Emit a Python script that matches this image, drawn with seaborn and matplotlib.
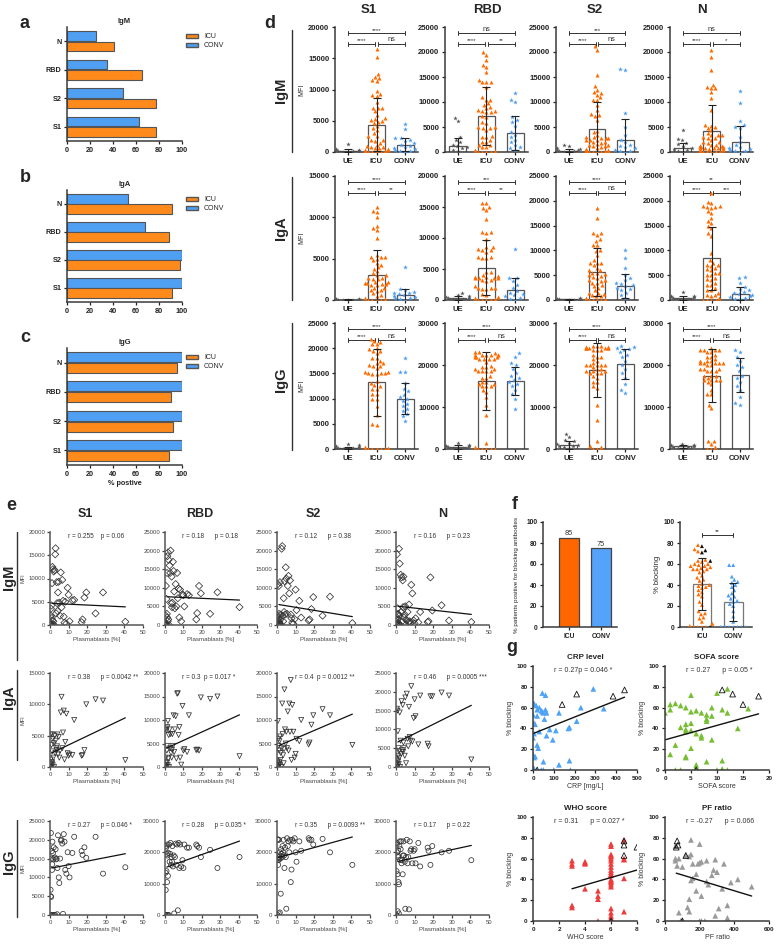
import warnings
import pandas as pd
import matplotlib
matplotlib.use("Agg")
import matplotlib.pyplot as plt
from matplotlib.lines import Line2D
from matplotlib.patches import Patch
import seaborn as sns

warnings.filterwarnings("ignore")

# ---------------- data ----------------
# a-c: % positive
antigens = ["N", "RBD", "S2", "S1"]
igm_icu_pos = [41, 65, 77, 77]
igm_conv_pos = [25, 35, 49, 63]
iga_icu_pos = [91, 89, 98, 91]
iga_conv_pos = [53, 68, 100, 100]
igg_icu_pos = [96, 90, 92, 89]
igg_conv_pos = [100, 100, 100, 100]

# e: plasmablasts (x) and MFI (y) for ICU patients, same order everywhere
plasmablasts = [0.2, 0.3, 0.4, 0.5, 0.6, 0.8, 0.9, 1.0, 1.1, 1.3, 1.5, 1.6, 1.8, 2.0, 2.2, 2.5,
                2.8, 3.0, 3.3, 3.6, 4.0, 4.3, 4.7, 5.0, 5.4, 5.8, 6.2, 6.6, 7.0, 7.4, 7.8, 8.2,
                8.8, 9.5, 10.0, 10.5, 12.0, 13.0, 17.0, 17.5, 18.5, 19.5, 24.5, 28.5, 40.5,
                0.1, 1.2, 3.8]
igm_s1 = [0, 300, 2000, 3500, 100, 4200, 0, 1500, 9000, 12500, 200, 12000, 800, 11500, 0, 11800,
          15200, 16500, 2500, 9200, 3000, 7000, 9300, 4800, 2000, 11300, 3800, 9700, 5200, 1800,
          500, 5000, 300, 8000, 6500, 800, 5300, 5400, 600, 1200, 5900, 7000, 2500, 7000, 700,
          0, 1000, 4700]
igm_rbd = [0, 500, 2500, 10500, 200, 7000, 0, 3000, 14000, 18500, 1000, 19500, 1500, 17500, 0,
           16000, 14000, 20000, 5800, 13000, 6000, 17000, 14500, 9000, 4500, 11000, 5000, 14000,
           7200, 9800, 2000, 9500, 1000, 8200, 8000, 5000, 8300, 8000, 1500, 3200, 10500, 8500,
           3000, 8800, 4800, 0, 2000, 4800]
igm_s2 = [0, 1200, 2500, 11000, 300, 2000, 0, 10500, 3000, 800, 200, 11500, 1500, 2800, 0, 20500,
          21200, 2500, 1000, 7200, 11800, 2800, 15500, 12500, 3000, 10500, 13200, 8500, 12000,
          2800, 1800, 600, 300, 1600, 9500, 4000, 6500, 2000, 1200, 1500, 4300, 7500, 2500, 7600,
          500, 0, 500, 3500]
igm_n = [0, 800, 2000, 19000, 100, 4500, 0, 1500, 3000, 500, 200, 20500, 2500, 16500, 0, 13500,
         3500, 12800, 1000, 12000, 13000, 2000, 2800, 5000, 1500, 1200, 3500, 800, 5500, 1000,
         600, 10800, 8500, 1200, 400, 1800, 700, 3500, 800, 1000, 12800, 3900, 5300, 1200, 800,
         0, 2800, 4800]
iga_s1 = [0, 500, 1200, 5200, 100, 3500, 0, 800, 2500, 5200, 300, 4500, 1500, 3800, 0, 5000,
          2200, 4200, 3000, 2700, 5200, 2000, 4800, 1500, 2600, 8700, 11200, 3000, 5500, 9000,
          1200, 4000, 8500, 2200, 1800, 2000, 1900, 7500, 1800, 1900, 2700, 10000, 10800, 10600,
          1100, 0, 600, 3300]
iga_rbd = [0, 800, 2000, 8200, 200, 7800, 0, 3500, 4500, 8500, 400, 9800, 1800, 6800, 0, 8000,
           4000, 7000, 3000, 2000, 7000, 4500, 11000, 3200, 8000, 10800, 1800, 15600, 15700, 6800,
           8500, 2000, 500, 13000, 3500, 3800, 3200, 11000, 3600, 3700, 3500, 14800, 14500, 15000,
           2300, 0, 1000, 3700]
iga_s2 = [0, 800, 1200, 9800, 300, 4500, 0, 6000, 3500, 5500, 500, 6500, 1500, 3000, 0, 4000,
          13500, 7000, 2500, 800, 16500, 8000, 5000, 7500, 4000, 11800, 3500, 13500, 7500, 18500,
          1500, 13200, 7500, 2000, 2800, 6000, 5500, 10000, 4800, 5200, 9000, 11000, 12300, 11000,
          4700, 0, 1000, 3800]
iga_n = [0, 1000, 2000, 15500, 500, 15000, 0, 9500, 3000, 5000, 800, 4200, 2500, 14500, 0, 7000,
         3500, 17500, 4500, 16500, 6500, 5000, 3000, 18500, 1000, 19500, 7500, 5500, 16000, 8000,
         7000, 21500, 6800, 13000, 18000, 13500, 6000, 19000, 6200, 5500, 18800, 18800, 19800,
         19000, 2000, 0, 1500, 4000]
igg_s1 = [0, 6700, 5000, 21800, 4800, 15000, 0, 17000, 12000, 19500, 0, 16500, 14800, 18000, 0,
          15300, 0, 17500, 14800, 15000, 12500, 21200, 10000, 8500, 15000, 19800, 20000, 19000,
          300, 21500, 19500, 12000, 11000, 16700, 13000, 10000, 16500, 20800, 17000, 16000, 18000,
          15200, 20800, 11000, 12700, 0, 13500, 200]
igg_rbd = [0, 13500, 8000, 22000, 21500, 14000, 0, 19500, 10500, 22500, 0, 12500, 19800, 0, 22500,
           17000, 19500, 23000, 16000, 18500, 22000, 15500, 19000, 500, 18500, 22800, 16000, 22500,
           1500, 23000, 15000, 22500, 15500, 17500, 15000, 22500, 21500, 21500, 22500, 22000,
           21500, 18500, 20800, 15000, 18500, 0, 19000, 17000]
igg_s2 = [0, 24200, 18000, 24000, 16000, 17500, 500, 24000, 18500, 19000, 800, 20000, 18000, 6800,
          21000, 19500, 18500, 22000, 20000, 24000, 15000, 21500, 18500, 2000, 24500, 22000, 23500,
          20000, 24000, 10500, 14500, 24000, 23500, 24500, 20000, 17000, 23500, 20500, 24500,
          24000, 24000, 22500, 24300, 20000, 16000, 0, 18000, 19000]
igg_n = [0, 14000, 22500, 23000, 20000, 13000, 1200, 19000, 18500, 10500, 500, 9800, 22000, 23500,
         17500, 21000, 23500, 16500, 17500, 13000, 23500, 19000, 17000, 2000, 18500, 24000, 16500,
         18500, 1800, 23500, 20500, 21000, 16500, 20500, 21000, 16500, 23000, 15500, 21500, 20500,
         16000, 22000, 20000, 20500, 17500, 0, 20500, 19000]

icu_igm = [igm_s1, igm_rbd, igm_s2, igm_n]
icu_iga = [iga_s1, iga_rbd, iga_s2, iga_n]
icu_igg = [igg_s1, igg_rbd, igg_s2, igg_n]

# fitted lines (MFI at plasmablasts = 1 and 40.5)
fit_x = [1, 40.5]
fit_igm = [(4650, 3900), (7600, 6700), (5500, 2250), (5050, 2850)]
fit_iga = [(2250, 7850), (4050, 11100), (4550, 11250), (6650, 16400)]
fit_igg = [(12500, 16300), (15300, 23600), (18400, 24900), (17100, 22200)]
notes_igm = ["r = 0.255    p = 0.06", "r = 0.18      p = 0.18",
             "r = 0.12      p = 0.38", "r = 0.16      p = 0.23"]
notes_iga = ["r = 0.38      p = 0.0042 **", "r = 0.3  p = 0.017 *",
             "r = 0.4  p = 0.0012 **", "r = 0.46      p = 0.0005 ***"]
notes_igg = ["r = 0.27      p = 0.046 *", "r = 0.28      p = 0.035 *",
             "r = 0.35      p = 0.0093 **", "r = 0.17      p = 0.22"]
e_ymax_igm = [20000, 25000, 25000, 25000]
e_ymax_iga = [15000, 20000, 20000, 25000]
e_ymax_igg = [25000, 30000, 30000, 30000]

# d: MFI per group (UE / ICU / CONV); ICU points are the same patients as in e
groups = ["UE", "ICU", "CONV"]
ue_igm = [[0, 50, 100, 100, 150, 200, 250, 300, 500, 1300],
          [200, 500, 800, 1000, 1200, 1500, 2000, 2500, 3000, 6200, 6900],
          [0, 100, 200, 300, 400, 500, 600, 800, 1300, 1500],
          [100, 300, 500, 700, 900, 1200, 1600, 1900, 2500, 2700, 4500]]
ue_iga = [[0, 0, 20, 30, 50, 60, 80, 100, 120, 150],
          [0, 100, 150, 200, 300, 400, 500, 600, 800, 1100],
          [0, 50, 100, 100, 150, 200, 250, 300, 300, 350],
          [100, 200, 300, 400, 500, 600, 700, 800, 900, 1700]]
ue_igg = [[0, 50, 100, 150, 200, 250, 300, 500, 800, 1000],
          [100, 200, 300, 400, 500, 600, 700, 800, 1000, 1400],
          [200, 400, 600, 800, 1000, 1200, 1500, 1800, 2200, 2800, 3600],
          [200, 300, 400, 500, 600, 700, 800, 900, 1000, 1300]]
conv_igm = [[0, 100, 200, 300, 500, 600, 800, 1000, 1200, 1500, 1800, 2000, 2200, 2300, 3700, 4500],
            [500, 800, 1000, 1500, 2000, 2500, 3000, 3500, 4000, 5200, 6000, 6500, 7000, 10000,
             10500, 11800],
            [0, 200, 300, 500, 800, 1000, 1200, 1500, 2000, 2500, 3500, 5000, 7800, 16500, 16700],
            [0, 200, 300, 500, 600, 800, 1000, 1500, 2000, 3000, 4800, 5000, 5500, 6200, 9800, 12300]]
conv_iga = [[0, 100, 200, 300, 400, 500, 600, 700, 800, 900, 1000, 1200, 1300, 4000],
            [0, 200, 400, 600, 800, 1000, 1200, 1500, 2000, 2500, 3000, 3500, 3600, 8200],
            [500, 1000, 1500, 2000, 2200, 2500, 2800, 3000, 3300, 3500, 4000, 4500, 5000, 6500,
             8500, 10000],
            [200, 300, 500, 700, 900, 1000, 1200, 1400, 1600, 2000, 2300, 2600, 3500, 4500, 4600]]
conv_igg = [[5600, 6500, 7000, 7500, 8000, 8500, 9000, 9500, 10000, 10300, 10800, 11500, 12000,
             13000, 15200, 15300, 18000],
            [9500, 12000, 13000, 14000, 15000, 15500, 16000, 16500, 17000, 17500, 18000, 19000,
             20000, 20500, 22000, 22800],
            [13300, 14000, 15500, 17000, 18000, 19000, 20000, 21000, 22000, 23000, 23500, 24000,
             24300, 24500, 23800, 22500],
            [10500, 11000, 12500, 14000, 15000, 16000, 17000, 17500, 18500, 19500, 20000, 21000,
             22000, 23000, 23500]]
mean_igm = [[200, 4400, 1200], [1300, 7200, 3800], [300, 4700, 2400], [800, 4300, 2100]]
sd_igm = [[250, 4300, 1100], [1600, 5800, 3400], [300, 5300, 4300], [1000, 5200, 3100]]
mean_iga = [[50, 3000, 600], [300, 5200, 1600], [150, 5700, 2900], [400, 8400, 1300]]
sd_iga = [[50, 3100, 700], [300, 4400, 2000], [100, 4800, 2400], [400, 6400, 1300]]
mean_igg = [[200, 13200, 10000], [500, 16200, 16200], [1000, 18800, 20300], [600, 17500, 17600]]
sd_igg = [[250, 6600, 3100], [400, 6900, 3300], [900, 6500, 3600], [300, 6200, 4100]]
d_ymax_igm = [20000, 25000, 25000, 25000]
d_ymax_iga = [15000, 20000, 25000, 25000]
d_ymax_igg = [25000, 30000, 30000, 30000]
stars_igm = [("****", "****", "ns"), ("ns", "****", "**"), ("***", "****", "ns"), ("ns", "****", "*")]
stars_iga = [("****", "****", "**"), ("***", "****", "**"), ("****", "****", "ns"), ("**", "****", "***")]
stars_igg = [("****", "****", "ns"), ("****", "****", "ns"), ("****", "****", "ns"), ("****", "****", "ns")]

# f
blocking_positive = [85, 75]
conv_block = [0, 0, 0, 0, 0, 0, 0, 0, 5, 10, 15, 20, 22, 24, 25, 27, 29, 30, 32, 35, 38, 40, 42,
              43, 45, 48, 59, 59]
block_mean = [41, 24]
block_sd = [25, 18]

# g: ICU patients, % blocking vs clinical parameters
block_pct = [74, 72, 78, 59, 60, 47, 41, 55, 38, 39, 29, 5, 9, 0, 0, 0, 0, 8, 64, 62, 63, 58, 57,
             56, 55, 60, 45, 44, 35, 31, 15, 13, 12, 24, 21, 3, 1, 53, 58, 55, 37, 49, 52, 33, 40,
             77, 73, 71, 63, 0]
crp = [45, 60, 290, 340, 230, 210, 175, 125, 110, 80, 95, 125, 175, 180, 100, 50, 40, 50, 5, 15, 0,
       20, 40, 45, 50, 30, 5, 10, 5, 0, 0, 10, 5, 20, 25, 0, 5, 0, 60, 65, 30, 55, 20, 65, 170,
       440, 210, 385, 140, 20]
sofa = [10, 5, 12, 16, 4, 8, 3, 12, 5, 4, 9, 6, 11, 2, 3, 10, 12, 8, 2, 3, 1, 1, 6, 5, 7, 9, 5, 4,
        6, 7, 1, 4, 4, 2, 5, 6, 11, 8, 11, 0, 4, 8, 9, 7, 14, 11, 13, 18, 15, 6]
who = [6, 6, 7, 7, 7, 6, 7, 6, 6, 6, 5, 6, 7, 5, 6, 6, 6, 6, 6, 6, 6, 6, 4, 4, 4, 6, 6, 6, 6, 4, 3,
       3, 6, 5, 5, 6, 6, 3, 3, 3, 6, 6, 6, 6, 6, 7, 7, 8, 7, 6]
pf = [200, 60, 150, 290, 60, 300, 160, 190, 240, 150, 180, 290, 140, 200, 90, 230, 210, 80, 150,
      140, 120, 60, 210, 200, 160, 80, 180, 270, 250, 330, 360, 130, 310, 210, 140, 360, 100, 70,
      240, 340, 380, 280, 100, 500, 420, 70, 75, 65, 120, 100]
marked = [0] * 45 + [1] * 5
fit_crp = ([0, 440], [35, 70])
fit_sofa = ([0, 18], [29, 54])
fit_who = ([3, 8], [31, 49])
fit_pf = ([65, 500], [46, 24])

# ---------------- style ----------------
sns.set_theme(style="ticks")
plt.rcParams["font.family"] = ["Liberation Sans", "DejaVu Sans"]
plt.rcParams.update({
    "axes.spines.top": False, "axes.spines.right": False,
    "axes.linewidth": 1.1, "axes.edgecolor": "#3a3a3a",
    "xtick.major.size": 2.5, "ytick.major.size": 2.5,
    "xtick.major.width": 0.9, "ytick.major.width": 0.9,
    "xtick.major.pad": 1.5, "ytick.major.pad": 1.5,
    "axes.labelpad": 2,
})

ORANGE_BAR = "#FF8A1C"
BLUE_BAR = "#4FA0F2"
ORANGE = "#FF6A00"
BLUE = "#4A9BF0"
GREY = "#555555"

W, H = 776, 944
fig = plt.figure(figsize=(W / 100, H / 100), dpi=100)


def add_ax(left, top, right, bottom):
    return fig.add_axes([left / W, 1 - bottom / H, (right - left) / W, (bottom - top) / H])


def ftext(x, y, s, **kw):
    fig.text(x / W, 1 - y / H, s, ha="center", va="center", **kw)


def vline(x, y0, y1):
    fig.add_artist(Line2D([x / W, x / W], [1 - y0 / H, 1 - y1 / H], color="#333", lw=1.0))


def ticks(ax, size, bold=False, color="#222"):
    ax.tick_params(labelsize=size, colors=color)
    if bold:
        for t in ax.get_xticklabels() + ax.get_yticklabels():
            t.set_fontweight("bold")


# ---------------- a-c ----------------
def positive_panel(top, bottom, icu, conv, title, xlabel=None):
    ax = add_ax(67, top, 182, bottom)
    df = pd.DataFrame({"antigen": antigens * 2,
                       "group": ["CONV"] * 4 + ["ICU"] * 4,
                       "pct": conv + icu})
    sns.barplot(data=df, x="pct", y="antigen", hue="group", order=antigens,
                hue_order=["CONV", "ICU"], palette={"ICU": ORANGE_BAR, "CONV": BLUE_BAR},
                saturation=1, edgecolor="#555", linewidth=0.8, width=0.74, gap=0.08,
                legend=False, ax=ax)
    ax.set_xlim(0, 100)
    ax.set_xticks(range(0, 101, 20))
    ax.set_ylabel("")
    ax.set_xlabel(xlabel or "", fontsize=5.2, fontweight="bold")
    ax.set_title(title, fontsize=5.5, fontweight="bold", pad=3)
    ticks(ax, 5.2, bold=True)
    handles = [Patch(facecolor=ORANGE_BAR, edgecolor="#555", label="ICU"),
               Patch(facecolor=BLUE_BAR, edgecolor="#555", label="CONV")]
    ax.legend(handles=handles, loc="upper left", bbox_to_anchor=(1.01, 0.97), frameon=False,
              fontsize=5, handlelength=1.8, handleheight=0.5, labelspacing=0.3, borderaxespad=0)


positive_panel(27, 141, igm_icu_pos, igm_conv_pos, "IgM")
positive_panel(190, 302, iga_icu_pos, iga_conv_pos, "IgA")
positive_panel(348, 465, igg_icu_pos, igg_conv_pos, "IgG", "% postive")
ftext(25, 24, "a", fontsize=13, fontweight="bold")
ftext(25, 177, "b", fontsize=13, fontweight="bold")
ftext(25, 338, "c", fontsize=13, fontweight="bold")


# ---------------- d ----------------
def bracket(ax, x0, x1, y, text):
    tr = ax.get_xaxis_transform()
    kw = dict(color="#333", lw=0.7, transform=tr, clip_on=False)
    ax.plot([x0, x1], [y, y], **kw)
    ax.plot([x0, x0], [y - 0.015, y + 0.015], **kw)
    ax.plot([x1, x1], [y - 0.015, y + 0.015], **kw)
    ax.text((x0 + x1) / 2, y + 0.004, text, transform=tr, ha="center", va="bottom",
            fontsize=5.3 if text == "ns" else 4.5, color="#333")


def mfi_panel(ax, ue, icu, conv, means, sds, ymax, stars, first):
    step = 10000 if ymax == 30000 else 5000
    sns.barplot(x=groups, y=means, color="white", edgecolor="#555", linewidth=0.9,
                width=0.6, errorbar=None, ax=ax)
    sns.swarmplot(x=["UE"] * len(ue), y=ue, order=groups, color=GREY, marker="*", size=3.4, ax=ax)
    sns.swarmplot(x=["ICU"] * len(icu), y=icu, order=groups, color=ORANGE, marker="^", size=2.9, ax=ax)
    sns.swarmplot(x=["CONV"] * len(conv), y=conv, order=groups, color=BLUE, marker="*", size=3.6, ax=ax)
    ax.errorbar([0, 1, 2], means, yerr=sds, fmt="none", ecolor="#222", elinewidth=0.8,
                capsize=3, capthick=0.8, zorder=5)
    ax.set_xlim(-0.45, 2.45)
    ax.set_ylim(0, ymax)
    ax.set_yticks(range(0, ymax + 1, step))
    ax.set_xlabel("")
    ax.set_ylabel("MFI" if first else "", fontsize=5)
    ticks(ax, 5.5, bold=True)
    bracket(ax, 0, 2, 0.95, stars[0])
    bracket(ax, 0, 0.95, 0.865, stars[1])
    bracket(ax, 1.05, 2, 0.865, stars[2])


d_cols = [(335, 418), (445, 528), (556, 638), (670, 753)]
d_rows = [(27, 152), (176, 300), (323, 449)]
d_sets = [(ue_igm, icu_igm, conv_igm, mean_igm, sd_igm, d_ymax_igm, stars_igm),
          (ue_iga, icu_iga, conv_iga, mean_iga, sd_iga, d_ymax_iga, stars_iga),
          (ue_igg, icu_igg, conv_igg, mean_igg, sd_igg, d_ymax_igg, stars_igg)]
for (top, bottom), (ue, icu, conv, mn, sd, ym, st) in zip(d_rows, d_sets):
    for j, (left, right) in enumerate(d_cols):
        ax = add_ax(left, top, right, bottom)
        mfi_panel(ax, ue[j], icu[j], conv[j], mn[j], sd[j], ym[j], st[j], j == 0)

for x, name in zip([369, 487, 595, 702], ["S1", "RBD", "S2", "N"]):
    ftext(x, 10, name, fontsize=9.5, fontweight="bold")
for yc, (y0, y1), name in zip([90, 228, 380], [(30, 152), (177, 300), (323, 450)], ["IgM", "IgA", "IgG"]):
    ftext(281, yc, name, fontsize=10.5, fontweight="bold", rotation=90)
    vline(292, y0, y1)
ftext(270, 23, "d", fontsize=13, fontweight="bold")


# ---------------- e ----------------
def corr_panel(ax, y, marker, ymax, fit, note, first):
    step = 10000 if ymax == 30000 else 5000
    sns.scatterplot(x=plasmablasts, y=y, marker=marker, s=13, facecolor="none",
                    edgecolor="#333", linewidth=0.55, ax=ax)
    ax.plot(fit_x, fit, color="#111", lw=0.9)
    ax.set_xlim(0, 50)
    ax.set_ylim(0, ymax)
    ax.set_xticks(range(0, 51, 10))
    ax.set_yticks(range(0, ymax + 1, step))
    ax.set_xlabel("Plasmablasts [%]", fontsize=4.4, color="#444", labelpad=1.5)
    ax.set_ylabel("MFI" if first else "", fontsize=4, color="#444")
    ax.tick_params(length=2)
    ticks(ax, 4.3, color="#444")
    ax.spines["left"].set_color("#555")
    ax.spines["bottom"].set_color("#555")
    ax.text(0.19, 0.985, note, transform=ax.transAxes, fontsize=4.7, va="top", color="#333")


e_cols = [(50, 143), (165, 257), (277, 370), (396, 489)]
e_rows = [(532, 625), (673, 767), (821, 915)]
e_sets = [(icu_igm, "D", e_ymax_igm, fit_igm, notes_igm),
          (icu_iga, "v", e_ymax_iga, fit_iga, notes_iga),
          (icu_igg, "o", e_ymax_igg, fit_igg, notes_igg)]
for (top, bottom), (ys, mk, ym, fits, notes) in zip(e_rows, e_sets):
    for j, (left, right) in enumerate(e_cols):
        ax = add_ax(left, top, right, bottom)
        corr_panel(ax, ys[j], mk, ym[j], fits[j], notes[j], j == 0)

for x, name in zip([85, 200, 313, 443], ["S1", "RBD", "S2", "N"]):
    ftext(x, 514, name, fontsize=9, fontweight="bold")
for yc, (y0, y1), name in zip([577, 697, 862], [(532, 660), (670, 760), (820, 917)], ["IgM", "IgA", "IgG"]):
    ftext(9, yc, name, fontsize=10.5, fontweight="bold", rotation=90)
    vline(17, y0, y1)
ftext(11, 506, "e", fontsize=13, fontweight="bold")

# ---------------- f ----------------
ax = add_ax(543, 522, 617, 627)
sns.barplot(x=["ICU", "CONV"], y=blocking_positive, hue=["ICU", "CONV"],
            palette={"ICU": "#FF6600", "CONV": "#55A2FA"}, saturation=1, edgecolor="#444",
            linewidth=0.9, width=0.62, legend=False, ax=ax)
for c in ax.containers:
    ax.bar_label(c, fontsize=5.3, padding=0.3, color="#333")
ax.set_xlim(-0.8, 1.5)
ax.set_ylim(0, 100)
ax.set_yticks(range(0, 101, 20))
ax.set_ylabel("% patients positive for blocking antibodies", fontsize=4.5, labelpad=5)
ticks(ax, 4.8, bold=True)

ax = add_ax(680, 522, 752, 627)
f_df = pd.DataFrame({"group": ["ICU"] * len(block_pct) + ["CONV"] * len(conv_block),
                     "block": block_pct + conv_block,
                     "mark": ["ICU" if m == 0 else "mark" for m in marked] + ["CONV"] * len(conv_block)})
sns.barplot(x=["ICU", "CONV"], y=block_mean, color="white", edgecolor="#777", linewidth=0.9,
            width=0.6, errorbar=None, ax=ax)
sns.swarmplot(data=f_df, x="group", y="block", hue="mark", order=["ICU", "CONV"],
              palette={"ICU": ORANGE, "mark": "#111", "CONV": BLUE}, marker="^", size=2.8,
              legend=False, ax=ax)
ax.errorbar([0, 1], block_mean, yerr=block_sd, fmt="none", ecolor="#222", elinewidth=0.8,
            capsize=3, capthick=0.8, zorder=5)
ax.plot([0, 1], [88, 88], color="#333", lw=0.7)
ax.plot([0, 0], [86, 90], color="#333", lw=0.7)
ax.plot([1, 1], [86, 90], color="#333", lw=0.7)
ax.text(0.5, 88.5, "**", ha="center", va="bottom", fontsize=4.5)
ax.set_xlim(-0.7, 1.6)
ax.set_ylim(0, 100)
ax.set_yticks(range(0, 101, 20))
ax.set_xlabel("")
ax.set_ylabel("% blocking", fontsize=5.5)
ticks(ax, 4.8, bold=True)
ftext(515, 505, "f", fontsize=13, fontweight="bold")


# ---------------- g ----------------
g_df = pd.DataFrame({"block": block_pct, "crp": crp, "sofa": sofa, "who": who, "pf": pf,
                     "mark": marked})


def block_panel(ax, col, color, xmax, step, fit, note, title, xlabel):
    plain = g_df[g_df["mark"] == 0]
    black = g_df[g_df["mark"] == 1]
    sns.scatterplot(data=plain, x=col, y="block", marker="^", color=color, s=17,
                    edgecolor="none", ax=ax)
    sns.scatterplot(data=black, x=col, y="block", marker="^", s=17, facecolor="none",
                    edgecolor="#111", linewidth=0.6, ax=ax)
    ax.plot(fit[0], fit[1], color="#111", lw=1.0)
    ax.set_xlim(0, xmax)
    ax.set_ylim(0, 100)
    ax.set_xticks(range(0, xmax + 1, step))
    ax.set_yticks(range(0, 101, 20))
    ax.set_xlabel(xlabel, fontsize=5, color="#333", labelpad=2)
    ax.set_ylabel("% blocking", fontsize=5, color="#333")
    ax.set_title(title, fontsize=5.8, fontweight="bold", pad=5)
    ax.text(0.2, 0.995, note, transform=ax.transAxes, fontsize=5, va="top", color="#333")
    ticks(ax, 4.6, bold=True)


block_panel(add_ax(533, 666, 637, 770), "crp", "#4EA3F5", 500, 100, fit_crp,
            "r = 0.27p = 0.046 *", "CRP level", "CRP [mg/L]")
block_panel(add_ax(665, 666, 769, 770), "sofa", "#78BE34", 20, 5, fit_sofa,
            "r = 0.27      p = 0.05 *", "SOFA score", "SOFA score")
block_panel(add_ax(533, 817, 637, 921), "who", "#EE3B3B", 8, 2, fit_who,
            "r = 0.31      p = 0.027 *", "WHO score", "WHO score")
block_panel(add_ax(665, 817, 769, 921), "pf", "#9A9A9A", 600, 200, fit_pf,
            "r = -0.27      p = 0.066", "PF ratio", "PF ratio")
ftext(512, 647, "g", fontsize=13, fontweight="bold")

fig.savefig("out.png", dpi=100)
